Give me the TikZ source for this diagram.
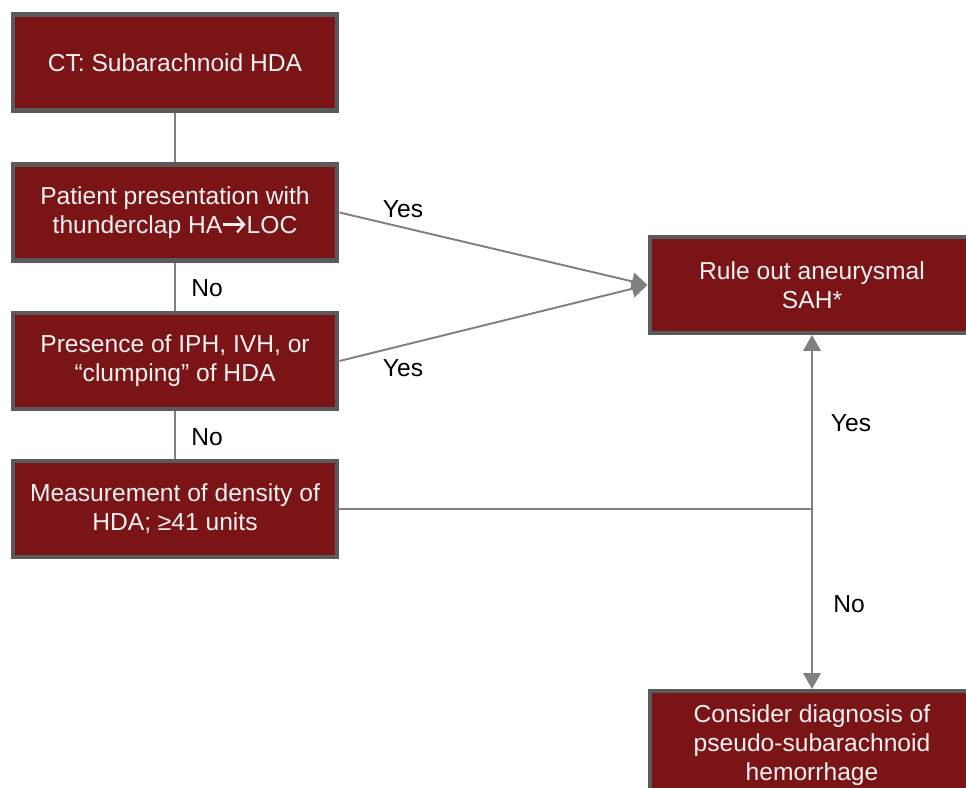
\documentclass[tikz,border=0pt]{standalone}
\usepackage{fontspec}
\setmainfont{Liberation Sans}
\usetikzlibrary{arrows.meta}
\definecolor{boxred}{RGB}{123,20,22}
\definecolor{boxrim}{RGB}{90,90,90}
\definecolor{linegray}{RGB}{128,128,128}
\newcommand{\thenarrow}{\tikz[baseline=0pt]\draw[white!95!black,line width=1.3pt,
  -{Straight Barb[length=4pt,width=9pt,line width=1.3pt]}] (0.05em,0.36em) -- (0.95em,0.36em);}
\begin{document}
\begin{tikzpicture}[x=0.02cm,y=-0.02cm,
  stepbox/.style={draw=boxrim,line width=2.3pt,fill=boxred,text=white!95!black,
    minimum width=6.5cm,minimum height=1.92cm,align=center,inner sep=2pt,
    font=\fontsize{14}{16.5}\selectfont},
  lab/.style={font=\fontsize{14}{16.5}\selectfont},
  conn/.style={draw=linegray,line width=1.1pt},
  arr/.style={conn,-{Triangle[length=9pt,width=10pt]}}]
\useasboundingbox (0,0) rectangle (966,787);
\clip (0,0) rectangle (966,787);
% left column
\node[stepbox] (ct) at (175,62.5) {CT: Subarachnoid HDA};
\node[stepbox] (pres) at (175,212.5) {Patient presentation with\\thunderclap HA\thenarrow LOC};
\node[stepbox] (iph) at (175,361) {Presence of IPH, IVH, or\\“clumping” of HDA};
\node[stepbox] (dens) at (175,509) {Measurement of density of\\HDA; ≥41 units};
% right column
\node[stepbox] (sah) at (812,285) {Rule out aneurysmal\\SAH*};
\node[stepbox,minimum height=2.16cm] (cons) at (812,745) {Consider diagnosis of\\pseudo-subarachnoid\\hemorrhage};
\coordinate (split) at (812,509);
% connectors
\draw[conn] (ct) -- (pres);
\draw[conn] (pres) -- (iph);
\draw[conn] (iph) -- (dens);
\draw[arr] (pres.east) -- (sah.west);
\draw[arr] (iph.east) -- (sah.west);
\draw[conn] (dens.east) -- (split);
\draw[arr] (split) -- (sah.south);
\draw[arr] (split) -- (cons.north);
% labels
\node[lab] (yes1) at (403,209) {Yes};
\node[lab] (yes2) at (403,368) {Yes};
\node[lab] (no1) at (207,288) {No};
\node[lab] (no2) at (207,437) {No};
\node[lab] (yes3) at (851,423) {Yes};
\node[lab] (no3) at (849,604) {No};
\end{tikzpicture}
\end{document}
